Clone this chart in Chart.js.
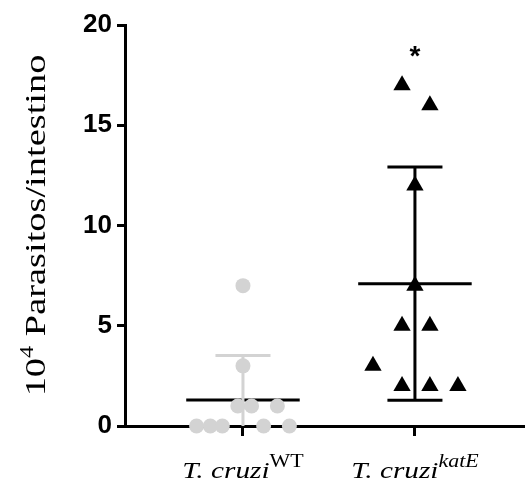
<!DOCTYPE html>
<html>
<head>
<meta charset="utf-8">
<script src="https://cdn.jsdelivr.net/npm/chart.js@4"></script>
<style>
  html, body { margin: 0; padding: 0; background: #fff; overflow: hidden; }
  #wrap { width: 525px; height: 486px; position: relative; }
</style>
</head>
<body>
<div id="wrap"><canvas id="chart"></canvas></div>
<script>
// Parasites per intestine (x10^4), one value per insect
const groups = ['WT', 'katE'];
const wtValues = [7, 3, 1, 1, 1, 0, 0, 0, 0, 0];
const katEValues = [17, 16, 12, 7, 5, 5, 3, 2, 2, 2];
// sideways spread so overlapping points stay visible (category units)
const wtSpread = [0, 0, -0.03, 0.05, 0.2, -0.27, -0.19, -0.12, 0.12, 0.27];
const katESpread = [-0.075, 0.087, 0, 0, -0.075, 0.087, -0.244, -0.075, 0.087, 0.25];
const yTicks = [0, 5, 10, 15, 20];
const significance = '*';

const GRAY = '#d3d3d3';
const BLACK = '#000';

function mean(arr) {
  return arr.reduce((a, b) => a + b, 0) / arr.length;
}
function sd(arr) {
  const m = mean(arr);
  return Math.sqrt(arr.reduce((a, b) => a + (b - m) * (b - m), 0) / (arr.length - 1));
}

// mean line, SD whisker and caps for one group; null breaks the line
function meanLine(values, c) {
  const m = mean(values);
  return [{ x: c - 0.33, y: m }, { x: c + 0.33, y: m }];
}
function sdBars(values, c) {
  const m = mean(values), s = sd(values);
  const hi = m + s, lo = m - s;
  const pts = [
    { x: c - 0.16, y: hi }, { x: c + 0.16, y: hi }, { x: c, y: null },
    { x: c, y: hi }, { x: c, y: Math.max(lo, 0) }
  ];
  if (lo >= 0) {
    pts.push({ x: c, y: null }, { x: c - 0.16, y: lo }, { x: c + 0.16, y: lo });
  }
  return pts;
}

const toPoints = (values, spread, c) => values.map((v, i) => ({ x: c + spread[i], y: v }));

const lineStyle = color => ({
  showLine: true, spanGaps: false, pointRadius: 0, borderWidth: 3,
  borderColor: color, backgroundColor: color, order: 1
});

// draws text made of several runs (normal + superscript) centred on cx,
// stretched sideways by sx
function drawRuns(ctx, runs, cx, baseY, sx) {
  let total = 0;
  runs.forEach(r => { ctx.font = r.font; r.w = ctx.measureText(r.text).width; total += r.w; });
  ctx.save();
  ctx.translate(cx, baseY);
  ctx.scale(sx, 1);
  let x = -total / 2;
  runs.forEach(r => {
    ctx.font = r.font;
    ctx.fillText(r.text, x, -(r.rise || 0));
    x += r.w;
  });
  ctx.restore();
}

const labelsPlugin = {
  id: 'labels',
  afterDraw(chart) {
    const ctx = chart.ctx;
    const xs = chart.scales.x, ys = chart.scales.y;
    ctx.save();
    ctx.fillStyle = BLACK;
    ctx.textAlign = 'left';
    ctx.textBaseline = 'alphabetic';

    // group names under the axis
    groups.forEach((g, i) => {
      const supFont = g === 'WT' ? '18px "Liberation Serif"' : 'italic 18px "Liberation Serif"';
      drawRuns(ctx, [
        { text: 'T. cruzi', font: 'italic 24px "Liberation Serif"' },
        { text: g, font: supFont, rise: 11 }
      ], xs.getPixelForValue(i + 1), 478, 1.22);
    });

    // y axis title, rotated
    ctx.save();
    ctx.translate(45, (ys.top + ys.bottom) / 2);
    ctx.rotate(-Math.PI / 2);
    drawRuns(ctx, [
      { text: '10', font: '30px "Liberation Serif"' },
      { text: '4', font: '19px "Liberation Serif"', rise: 12 },
      { text: ' Parasitos/intestino', font: '30px "Liberation Serif"' }
    ], 0, 0, 1.28);
    ctx.restore();

    // significance mark above the katE group
    ctx.textAlign = 'center';
    ctx.font = 'bold 28px "Liberation Sans"';
    ctx.fillText(significance, xs.getPixelForValue(2), ys.getPixelForValue(18));
    ctx.restore();
  }
};

new Chart(document.getElementById('chart'), {
  type: 'scatter',
  data: {
    datasets: [
      {
        label: 'WT',
        data: toPoints(wtValues, wtSpread, 1),
        pointStyle: 'circle', pointRadius: 7.5, pointHoverRadius: 7.5,
        backgroundColor: GRAY, borderColor: GRAY, borderWidth: 0, order: 0, clip: false
      },
      {
        label: 'katE',
        data: toPoints(katEValues, katESpread, 2),
        pointStyle: 'triangle', pointRadius: 10, pointHoverRadius: 10,
        backgroundColor: BLACK, borderColor: BLACK, borderWidth: 0, order: 0, clip: false
      },
      { label: 'WT SD', data: sdBars(wtValues, 1), ...lineStyle(GRAY) },
      { label: 'katE SD', data: sdBars(katEValues, 2), ...lineStyle(BLACK) },
      { label: 'mean WT', data: meanLine(wtValues, 1), ...lineStyle(BLACK) },
      { label: 'mean katE', data: meanLine(katEValues, 2), ...lineStyle(BLACK) }
    ]
  },
  options: {
    responsive: true,
    maintainAspectRatio: false,
    animation: false,
    layout: { autoPadding: false, padding: { top: 25, right: 0, left: 0, bottom: 0 } },
    plugins: {
      legend: { display: false },
      tooltip: { enabled: false }
    },
    scales: {
      x: {
        type: 'linear',
        min: 0.314,
        max: 2.64,
        afterBuildTicks: s => { s.ticks = groups.map((g, i) => ({ value: i + 1 })); },
        afterFit: s => { s.height = 60; },
        ticks: { display: false },
        grid: { drawOnChartArea: false, drawTicks: true, tickLength: 10, tickWidth: 3, tickColor: BLACK },
        border: { display: true, color: BLACK, width: 3 }
      },
      y: {
        min: 0,
        max: 20,
        afterBuildTicks: s => { s.ticks = yTicks.map(v => ({ value: v })); },
        afterFit: s => { s.width = 125; },
        ticks: {
          color: BLACK,
          padding: 5,
          font: { family: '"Liberation Sans", Arial', weight: 'bold', size: 26 }
        },
        grid: { drawOnChartArea: false, drawTicks: true, tickLength: 8, tickWidth: 3, tickColor: BLACK },
        border: { display: true, color: BLACK, width: 3 }
      }
    }
  },
  plugins: [labelsPlugin]
});
</script>
</body>
</html>
